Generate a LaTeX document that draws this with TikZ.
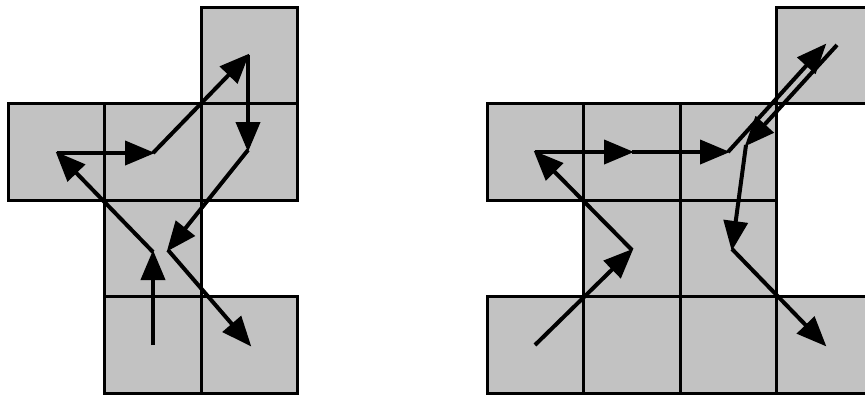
\documentclass[tikz,border=0pt]{standalone}
\usetikzlibrary{arrows.meta}
\begin{document}
\begin{tikzpicture}[x=0.1mm,y=-0.1mm,
  cellbox/.style={fill=black!24,draw=black,line width=0.3mm},
  ray/.style={line width=0.4mm,-{Triangle[length=3mm,width=2.4mm]},shorten >=-0.2mm}]
\useasboundingbox (0,0) rectangle (865,397);
\clip (0,0) rectangle (865,397);
% left grid cells (col,row)
\foreach \c/\r in {2/0,0/1,1/1,2/1,1/2,1/3,2/3}
  \draw[cellbox] (8+96.5*\c,7+96.5*\r) rectangle ++(96.5,96.5);
% right grid cells
\foreach \c/\r in {3/0,0/1,1/1,2/1,1/2,2/2,0/3,1/3,2/3,3/3}
  \draw[cellbox] (487+96.5*\c,7+96.5*\r) rectangle ++(96.5,96.5);
% left path points
\coordinate (lA) at (153,345);
\coordinate (lB) at (153,252);
\coordinate (lC) at (57,153);
\coordinate (lD) at (153,153);
\coordinate (lE) at (248,55);
\coordinate (lF) at (248,150);
\coordinate (lG) at (168,250);
\coordinate (lH) at (250,345);
\draw[ray] (lA) -- (lB);
\draw[ray] (lB) -- (lC);
\draw[ray] (lC) -- (lD);
\draw[ray] (lD) -- (lE);
\draw[ray] (lE) -- (lF);
\draw[ray] (lF) -- (lG);
\draw[ray] (lG) -- (lH);
% right path points
\coordinate (rA) at (535,345);
\coordinate (rB) at (632,250);
\coordinate (rC) at (535,152);
\coordinate (rM) at (632,152);
\coordinate (rD) at (728,152);
\coordinate (rE) at (825,45);
\coordinate (rE2) at (837,45);
\coordinate (rF) at (746,145);
\coordinate (rG) at (732,249);
\coordinate (rH) at (825,345);
\draw[ray] (rA) -- (rB);
\draw[ray] (rB) -- (rC);
\draw[ray] (rC) -- (rM);
\draw[ray] (rM) -- (rD);
\draw[ray] (rD) -- (rE);
\draw[ray] (rE2) -- (rF);
\draw[ray] (rF) -- (rG);
\draw[ray] (rG) -- (rH);
\end{tikzpicture}
\end{document}
